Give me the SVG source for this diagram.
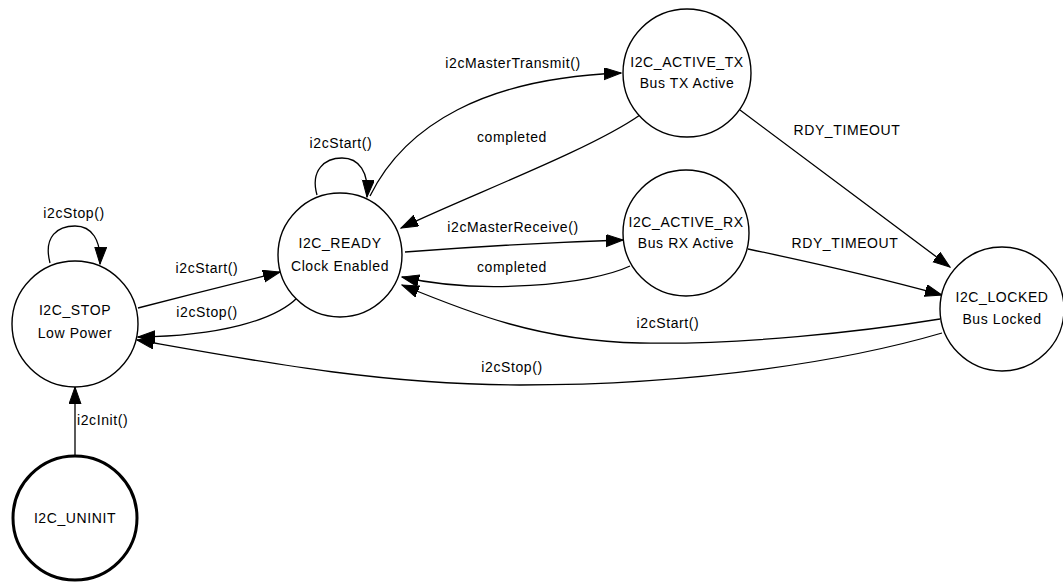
<svg xmlns="http://www.w3.org/2000/svg" width="1063" height="582" viewBox="0 0 1063 582">
  <style>
    .node { fill: #ffffff; stroke: #000000; stroke-width: 1.4; }
    .start { stroke-width: 3; }
    .edge { fill: none; stroke: #000000; stroke-width: 1.3; marker-end: url(#arrow); }
    text { font-family: "Liberation Sans", Arial, sans-serif; font-size: 14px; fill: #000000; letter-spacing: 0.6px; }
    .c { text-anchor: middle; }
  </style>
  <defs>
    <marker id="arrow" markerUnits="userSpaceOnUse" markerWidth="18" markerHeight="13" refX="17" refY="6" orient="auto" viewBox="0 0 18 13">
      <path d="M0,0 L17,6 L0,12 z" fill="#000000" stroke="#000000" stroke-width="1"/>
    </marker>
  </defs>

  <!-- transitions -->
  <g id="edges">
    <!-- I2C_STOP self loop -->
    <path class="edge" d="M50,263 C43,236 58,226 75,226 C92,226 101,240 100,264"/>
    <text class="c" x="74" y="218">i2cStop()</text>

    <!-- I2C_READY self loop -->
    <path class="edge" d="M317,195 C310,170 325,158 342,158 C359,158 369,172 367,197"/>
    <text class="c" x="341" y="148">i2cStart()</text>

    <!-- STOP -> READY -->
    <path class="edge" d="M138,308 C185,296 235,283 280,272"/>
    <text class="c" x="207" y="273">i2cStart()</text>

    <!-- READY -> STOP -->
    <path class="edge" d="M297,298 C275,320 220,336 138,337"/>
    <text class="c" x="207" y="317">i2cStop()</text>

    <!-- READY -> ACTIVE_TX -->
    <path class="edge" d="M370,196 C405,125 485,78 621,73"/>
    <text class="c" x="513" y="68">i2cMasterTransmit()</text>

    <!-- ACTIVE_TX -> READY -->
    <path class="edge" d="M640,115 C590,150 470,195 401,228"/>
    <text class="c" x="512" y="142">completed</text>

    <!-- READY -> ACTIVE_RX -->
    <path class="edge" d="M405,252 C470,247 560,242 623,240"/>
    <text class="c" x="513" y="232">i2cMasterReceive()</text>

    <!-- ACTIVE_RX -> READY -->
    <path class="edge" d="M630,266 C590,285 480,295 402,277"/>
    <text class="c" x="512" y="272">completed</text>

    <!-- ACTIVE_TX -> LOCKED -->
    <path class="edge" d="M740,110 C810,162 880,215 950,267"/>
    <text class="c" x="847" y="135">RDY_TIMEOUT</text>

    <!-- ACTIVE_RX -> LOCKED -->
    <path class="edge" d="M748,249 C810,262 880,278 942,295"/>
    <text class="c" x="845" y="248">RDY_TIMEOUT</text>

    <!-- LOCKED -> READY -->
    <path class="edge" d="M940,319 C860,332 740,345 640,343 C540,341 470,313 402,285"/>
    <text class="c" x="668" y="328">i2cStart()</text>

    <!-- LOCKED -> STOP -->
    <path class="edge" d="M942,333 C850,360 700,385 520,385 C380,385 250,360 137,340"/>
    <text class="c" x="512" y="372">i2cStop()</text>

    <!-- UNINIT -> STOP -->
    <path class="edge" d="M75,455 L75,387"/>
    <text x="77" y="425">i2cInit()</text>
  </g>

  <!-- states -->
  <g id="I2C_STOP">
    <circle class="node" cx="75" cy="324" r="63"/>
    <text class="c" x="75" y="315">I2C_STOP</text>
    <text class="c" x="75" y="338">Low Power</text>
  </g>
  <g id="I2C_UNINIT">
    <circle class="node start" cx="75" cy="518" r="62"/>
    <text class="c" x="75" y="523">I2C_UNINIT</text>
  </g>
  <g id="I2C_READY">
    <circle class="node" cx="340" cy="255" r="62"/>
    <text class="c" x="340" y="248">I2C_READY</text>
    <text class="c" x="340" y="271">Clock Enabled</text>
  </g>
  <g id="I2C_ACTIVE_TX">
    <circle class="node" cx="687" cy="73" r="64"/>
    <text class="c" x="687" y="67">I2C_ACTIVE_TX</text>
    <text class="c" x="687" y="88">Bus TX Active</text>
  </g>
  <g id="I2C_ACTIVE_RX">
    <circle class="node" cx="686" cy="233" r="63"/>
    <text class="c" x="686" y="227">I2C_ACTIVE_RX</text>
    <text class="c" x="686" y="248">Bus RX Active</text>
  </g>
  <g id="I2C_LOCKED">
    <circle class="node" cx="1002" cy="309" r="62"/>
    <text class="c" x="1002" y="302">I2C_LOCKED</text>
    <text class="c" x="1002" y="324">Bus Locked</text>
  </g>
</svg>
